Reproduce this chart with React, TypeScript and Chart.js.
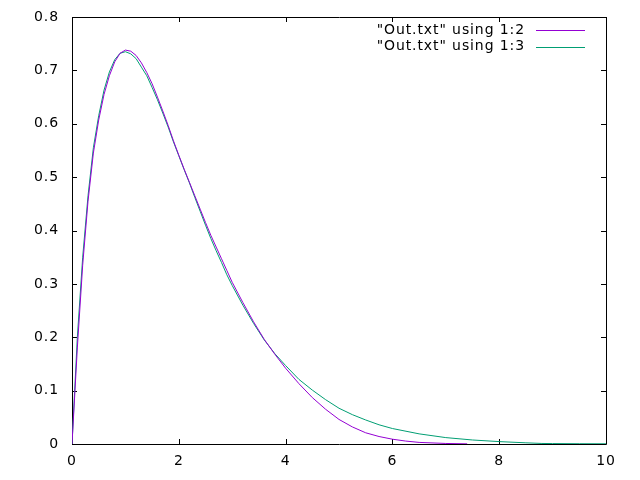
import { useEffect, useRef } from "react";
import { Chart, registerables } from "chart.js";

Chart.register(...registerables);

const SERIES_LABELS = ['"Out.txt" using 1:2', '"Out.txt" using 1:3'];
const SERIES_COLORS = ["#9400d3", "#009e73"];

const X_TICKS = [0, 2, 4, 6, 8, 10];
const Y_TICKS = [0, 0.1, 0.2, 0.3, 0.4, 0.5, 0.6, 0.7, 0.8];

const X_COL2 = [
  0, 0.1, 0.2, 0.3, 0.4, 0.5, 0.6, 0.7, 0.8, 0.9, 1.0, 1.1, 1.2, 1.3, 1.4, 1.5,
  1.6, 1.7, 1.8, 1.9, 2.0, 2.1, 2.2, 2.3, 2.4, 2.5, 2.6, 2.7, 2.8, 2.9, 3.0,
  3.2, 3.4, 3.6, 3.8, 4.0, 4.25, 4.5, 4.75, 5.0, 5.25, 5.5, 5.75, 6.0, 6.25,
  6.5, 7.0, 7.4,
];
const Y_COL2 = [
  0, 0.18, 0.335, 0.455, 0.545, 0.607, 0.655, 0.69, 0.716, 0.732, 0.738, 0.736,
  0.728, 0.714, 0.696, 0.675, 0.65, 0.624, 0.597, 0.568, 0.541, 0.515, 0.49,
  0.465, 0.44, 0.415, 0.391, 0.369, 0.347, 0.325, 0.303, 0.265, 0.229, 0.196,
  0.168, 0.142, 0.113, 0.087, 0.065, 0.046, 0.032, 0.021, 0.014, 0.009, 0.0055,
  0.003, 0.001, 0.0003,
];

const X_COL3 = [
  0, 0.1, 0.2, 0.3, 0.4, 0.5, 0.6, 0.7, 0.8, 0.9, 1.0, 1.1, 1.2, 1.3, 1.4, 1.5,
  1.6, 1.7, 1.8, 1.9, 2.0, 2.1, 2.2, 2.3, 2.4, 2.5, 2.6, 2.7, 2.8, 2.9, 3.0,
  3.2, 3.4, 3.6, 3.8, 4.0, 4.25, 4.5, 4.75, 5.0, 5.25, 5.5, 5.75, 6.0, 6.5,
  7.0, 7.5, 8.0, 8.5, 8.8, 9.0, 9.5, 10,
];
const Y_COL3 = [
  0, 0.2, 0.35, 0.465, 0.555, 0.615, 0.663, 0.697, 0.72, 0.732, 0.735, 0.731,
  0.722, 0.706, 0.69, 0.668, 0.645, 0.62, 0.594, 0.566, 0.54, 0.514, 0.489,
  0.462, 0.436, 0.41, 0.385, 0.362, 0.34, 0.317, 0.297, 0.26, 0.226, 0.195,
  0.169, 0.147, 0.121, 0.101, 0.083, 0.067, 0.055, 0.045, 0.036, 0.029, 0.019,
  0.012, 0.0075, 0.0045, 0.0022, 0.001, 0.0008, 0.0005, 0.0004,
];

const toPoints = (xs: number[], ys: number[]) => xs.map((x, i) => ({ x, y: ys[i] }));

const FONT = "DejaVu Sans";
const TICK_LEN = 5;
const SPACING = "0.9px";

const setSpacing = (chart: any) => {
  if (chart.ctx) (chart.ctx as any).letterSpacing = SPACING;
};

const framePlugin = {
  id: "gnuframe",
  beforeInit: setSpacing,
  beforeLayout: setSpacing,
  beforeDraw: setSpacing,
  beforeDatasetsDraw(chart: any) {
    const { ctx, chartArea } = chart;
    const { left, right, top, bottom } = chartArea;
    const xs = chart.scales.x;
    const ys = chart.scales.y;
    ctx.save();
    ctx.strokeStyle = "#000";
    ctx.lineWidth = 1;
    ctx.beginPath();
    ctx.rect(Math.round(left) + 0.5, Math.round(top) + 0.5, Math.round(right - left), Math.round(bottom - top));
    ctx.stroke();
    ctx.beginPath();
    X_TICKS.forEach((v) => {
      const px = Math.round(xs.getPixelForValue(v)) + 0.5;
      ctx.moveTo(px, bottom);
      ctx.lineTo(px, bottom - TICK_LEN);
      ctx.moveTo(px, top);
      ctx.lineTo(px, top + TICK_LEN);
    });
    Y_TICKS.forEach((v) => {
      const py = Math.round(ys.getPixelForValue(v)) + 0.5;
      ctx.moveTo(left, py);
      ctx.lineTo(left + TICK_LEN, py);
      ctx.moveTo(right, py);
      ctx.lineTo(right - TICK_LEN, py);
    });
    ctx.stroke();
    ctx.restore();
  },
  afterDraw(chart: any) {
    const { ctx, chartArea } = chart;
    const textRight = chartArea.right - 81;
    const lineStart = chartArea.right - 70;
    const lineEnd = chartArea.right - 21;
    ctx.save();
    ctx.letterSpacing = SPACING;
    ctx.font = `14px "${FONT}"`;
    ctx.textAlign = "right";
    ctx.textBaseline = "middle";
    chart.data.datasets.forEach((ds: any, i: number) => {
      const y = chartArea.top + 13 + i * 16.5;
      ctx.fillStyle = "#000";
      ctx.fillText(ds.label, textRight, y);
      ctx.strokeStyle = ds.borderColor;
      ctx.lineWidth = 1;
      ctx.beginPath();
      ctx.moveTo(lineStart, Math.round(y) + 0.5);
      ctx.lineTo(lineEnd, Math.round(y) + 0.5);
      ctx.stroke();
    });
    ctx.restore();
  },
};

export default function App() {
  const ref = useRef<HTMLCanvasElement>(null);
  useEffect(() => {
    if (!ref.current) return;
    const chart = new Chart(ref.current, {
      type: "line",
      data: {
        datasets: [
          {
            label: SERIES_LABELS[0],
            data: toPoints(X_COL2, Y_COL2),
            borderColor: SERIES_COLORS[0],
            backgroundColor: SERIES_COLORS[0],
            borderWidth: 1,
            pointRadius: 0,
            tension: 0,
            fill: false,
          },
          {
            label: SERIES_LABELS[1],
            data: toPoints(X_COL3, Y_COL3),
            borderColor: SERIES_COLORS[1],
            backgroundColor: SERIES_COLORS[1],
            borderWidth: 1,
            pointRadius: 0,
            tension: 0,
            fill: false,
          },
        ],
      },
      options: {
        animation: false,
        responsive: false,
        layout: { padding: { top: 17, right: 34, left: 0, bottom: 0 } },
        plugins: { legend: { display: false }, tooltip: { enabled: false } },
        scales: {
          x: {
            type: "linear",
            min: 0,
            max: 10,
            afterBuildTicks: (s: any) => {
              s.ticks = X_TICKS.map((v) => ({ value: v }));
            },
            afterFit: (s: any) => {
              s.height = 36;
              s.paddingLeft = 0;
              s.paddingRight = 0;
            },
            grid: { display: false, drawTicks: false },
            border: { display: false },
            ticks: {
              color: "#000",
              font: { family: FONT, size: 14 },
              padding: 9,
              maxRotation: 0,
              callback: (v: any) => String(v),
            },
          },
          y: {
            type: "linear",
            min: 0,
            max: 0.8,
            afterBuildTicks: (s: any) => {
              s.ticks = Y_TICKS.map((v) => ({ value: v }));
            },
            afterFit: (s: any) => {
              s.width = 72;
              s.paddingTop = 0;
              s.paddingBottom = 0;
            },
            grid: { display: false, drawTicks: false },
            border: { display: false },
            ticks: {
              color: "#000",
              font: { family: FONT, size: 14 },
              padding: 13,
              callback: (v: any) => String(Math.round(v * 10) / 10),
            },
          },
        },
      },
      plugins: [framePlugin],
    });
    return () => chart.destroy();
  }, []);
  return (
    <div style={{ position: "absolute", left: 0, top: 0, width: 640, height: 480, background: "#fff" }}>
      <canvas ref={ref} width={640} height={480} style={{ display: "block" }} />
    </div>
  );
}
